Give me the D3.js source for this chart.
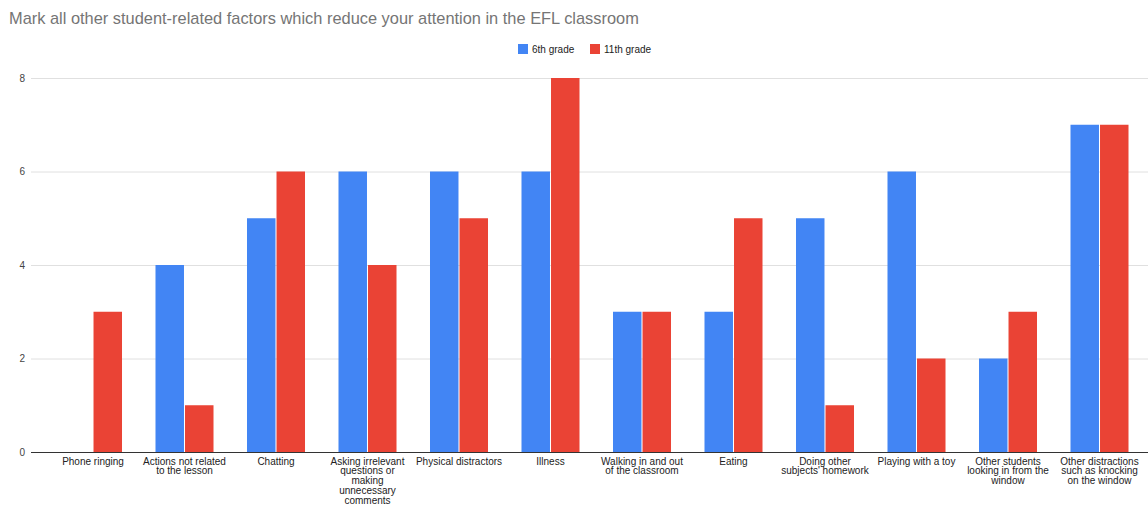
<!DOCTYPE html>
<html><head><meta charset="utf-8">
<script src="https://cdn.jsdelivr.net/npm/d3@7"></script>
<style>body{margin:0;background:#fff}svg{display:block;font-family:"Liberation Sans",Arial,sans-serif}</style>
</head><body>
<svg id="c" width="1148" height="505"></svg>
<script>
const categories = ["Phone ringing","Actions not related to the lesson","Chatting","Asking irrelevant questions or making unnecessary comments","Physical distractors","Illness","Walking in and out of the classroom","Eating","Doing other subjects' homework","Playing with a toy","Other students looking in from the window","Other distractions such as knocking on the window"];
const grade6 = [0,4,5,6,6,6,3,3,5,6,2,7];
const grade11 = [3,1,6,4,5,8,3,5,1,2,3,7];
const seriesNames = ["6th grade","11th grade"];
const colors = ["#4285f4","#ea4335"];
const yTicks = [0,2,4,6,8];

(function(){
const svg = d3.select("#c");
const plotL = 31, plotR = 1148, plotTop = 78, plotBottom = 452;
const x = d3.scaleBand().domain(categories).range([47.25, 1145.25]).paddingInner(0.366).paddingOuter(0.183);
const x1 = d3.scaleBand().domain([0,1]).range([0, x.bandwidth()]).paddingInner(0.035);
const y = d3.scaleLinear().domain([0,8]).range([plotBottom, plotTop]);

svg.append("text").attr("x",9).attr("y",24).attr("font-size",16.4).attr("fill","#757575").text("Mark all other student-related factors which reduce your attention in the EFL classroom");

svg.append("g").selectAll("line").data(yTicks.filter(d=>d>0)).join("line")
  .attr("x1",plotL).attr("x2",plotR).attr("y1",d=>y(d)+0.5).attr("y2",d=>y(d)+0.5)
  .attr("stroke","#e0e0e0").attr("stroke-width",1);
svg.append("g").selectAll("text").data(yTicks).join("text")
  .attr("x",25).attr("y",d=>y(d)+3.5).attr("text-anchor","end").attr("font-size",10).attr("fill","#444").text(d=>d);

const data = categories.map((c,i)=>({c, v:[grade6[i],grade11[i]]}));
const g = svg.append("g").selectAll("g").data(data).join("g").attr("transform",d=>`translate(${x(d.c)},0)`);
g.selectAll("rect").data(d=>d.v.map((v,k)=>({v,k}))).join("rect")
  .attr("x",d=>x1(d.k)).attr("width",x1.bandwidth())
  .attr("y",d=>y(d.v)).attr("height",d=>plotBottom-y(d.v))
  .attr("fill",d=>colors[d.k]);

svg.append("line").attr("x1",plotL).attr("x2",plotR).attr("y1",plotBottom+0.5).attr("y2",plotBottom+0.5).attr("stroke","#333").attr("stroke-width",1);

const lab = svg.append("g").selectAll("text").data(categories).join("text")
  .attr("x",d=>x(d)+x.bandwidth()/2).attr("y",464.5).attr("text-anchor","middle").attr("font-size",10).attr("fill","#222");
lab.each(function(d){
  const t = d3.select(this); const words = d.split(" "); let line=[];
  const cx = x(d)+x.bandwidth()/2;
  let ts = t.append("tspan").attr("x",cx).attr("dy",0);
  for(const w of words){
    line.push(w); ts.text(line.join(" "));
    if(ts.node().getComputedTextLength()>88.5 && line.length>1){
      line.pop(); ts.text(line.join(" ")); line=[w];
      ts = t.append("tspan").attr("x",cx).attr("dy",9.9).text(w);
    }
  }
});

const leg = svg.append("g");
const legX = [518, 590];
seriesNames.forEach((s,i)=>{
  leg.append("rect").attr("x",legX[i]).attr("y",44).attr("width",10).attr("height",10).attr("fill",colors[i]);
  leg.append("text").attr("x",legX[i]+14).attr("y",53).attr("font-size",10).attr("fill","#222").text(s);
});
})();
</script>
</body></html>
